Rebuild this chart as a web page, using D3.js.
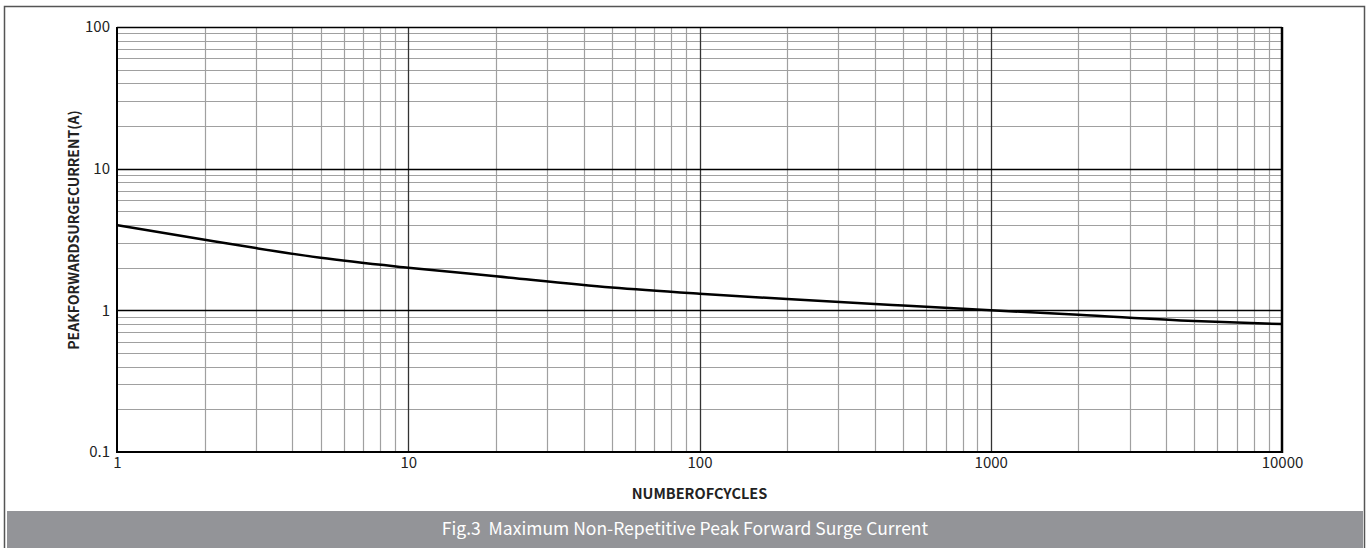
<!DOCTYPE html>
<html>
<head>
  <meta charset="utf-8" />
  <title>Fig.3 Peak Forward Surge Current</title>
  <style>
    body { margin: 0; background: #ffffff; }
    svg { display: block; font-family: 'Noto Sans CJK SC', 'Noto Sans', sans-serif; }
  </style>
  <script src="https://cdnjs.cloudflare.com/ajax/libs/d3/7.8.5/d3.min.js"></script>
</head>
<body>
<div id="chart"></div>
<script>
  // values
  var cycles = [1, 2, 3, 5, 10, 20, 50, 100, 200, 500, 1000, 2000, 5000, 10000];
  var current = [4.0, 3.15, 2.75, 2.35, 2.0, 1.74, 1.45, 1.31, 1.2, 1.08, 1.0, 0.93, 0.84, 0.8];
  var xTicks = [1, 10, 100, 1000, 10000];
  var yTicks = [0.1, 1, 10, 100];
  var xTitle = "NUMBEROFCYCLES";
  var yTitle = "PEAKFORWARDSURGECURRENT(A)";
  var caption = "Fig.3  Maximum Non-Repetitive Peak Forward Surge Current";

  var W = 1371, H = 548;
  var pL = 117, pR = 1282, pT = 27, pB = 452;

  var svg = d3.select("#chart").append("svg")
    .attr("width", W).attr("height", H);

  // outer frame
  svg.append("rect")
    .attr("x", 4.5).attr("y", 6.5)
    .attr("width", 1360).attr("height", 560)
    .attr("fill", "none").attr("stroke", "#555").attr("stroke-width", 1.5);

  var x = d3.scaleLog().domain([1, 10000]).range([pL, pR]);
  var y = d3.scaleLog().domain([0.1, 100]).range([pB, pT]);

  // minor values (2..9 per decade)
  function minors(lo, hi) {
    var out = [];
    for (var d = lo; d < hi * 0.99; d *= 10) {
      for (var k = 2; k <= 9; k++) out.push(d * k);
    }
    return out;
  }

  var grid = svg.append("g");
  grid.selectAll(".vmin").data(minors(1, 10000)).enter().append("line")
    .attr("x1", function (d) { return Math.round(x(d)) + 0.5; })
    .attr("x2", function (d) { return Math.round(x(d)) + 0.5; })
    .attr("y1", pT).attr("y2", pB)
    .attr("stroke", "#a0a0a0").attr("stroke-width", 1.2);
  grid.selectAll(".hmin").data(minors(0.1, 100)).enter().append("line")
    .attr("y1", function (d) { return Math.round(y(d)) + 0.5; })
    .attr("y2", function (d) { return Math.round(y(d)) + 0.5; })
    .attr("x1", pL).attr("x2", pR)
    .attr("stroke", "#a0a0a0").attr("stroke-width", 1.2);
  grid.selectAll(".vmaj").data(xTicks.slice(1, -1)).enter().append("line")
    .attr("x1", function (d) { return Math.round(x(d)) + 0.5; })
    .attr("x2", function (d) { return Math.round(x(d)) + 0.5; })
    .attr("y1", pT).attr("y2", pB)
    .attr("stroke", "#333").attr("stroke-width", 1.3);
  grid.selectAll(".hmaj").data(yTicks.slice(1, -1)).enter().append("line")
    .attr("y1", function (d) { return Math.round(y(d)) + 0.5; })
    .attr("y2", function (d) { return Math.round(y(d)) + 0.5; })
    .attr("x1", pL).attr("x2", pR)
    .attr("stroke", "#000").attr("stroke-width", 1.3);

  // plot frame
  svg.append("line").attr("x1", pL).attr("x2", pR).attr("y1", pT + 0.5).attr("y2", pT + 0.5)
    .attr("stroke", "#000").attr("stroke-width", 1.5);
  svg.append("line").attr("x1", pL).attr("x2", pR).attr("y1", pB).attr("y2", pB)
    .attr("stroke", "#000").attr("stroke-width", 2);
  svg.append("line").attr("x1", pL).attr("x2", pL).attr("y1", pT).attr("y2", pB + 1)
    .attr("stroke", "#000").attr("stroke-width", 2);
  svg.append("line").attr("x1", pR).attr("x2", pR).attr("y1", pT).attr("y2", pB + 1)
    .attr("stroke", "#000").attr("stroke-width", 2.5);

  // axes labels
  var fmt = function (d) { return d < 1 ? "0.1" : String(d); };
  var xAxis = svg.append("g")
    .attr("transform", "translate(0," + pB + ")")
    .call(d3.axisBottom(x).tickValues(xTicks).tickFormat(fmt).tickSize(0).tickPadding(5));
  var yAxis = svg.append("g")
    .attr("transform", "translate(" + pL + ",0)")
    .call(d3.axisLeft(y).tickValues(yTicks).tickFormat(fmt).tickSize(0).tickPadding(7));
  [xAxis, yAxis].forEach(function (a) {
    a.select(".domain").remove();
    a.selectAll("text").attr("font-size", "15px").attr("fill", "#222")
      .attr("font-family", "'Noto Sans CJK SC', 'Noto Sans', sans-serif");
  });

  // curve
  var line = d3.line()
    .x(function (d, i) { return x(cycles[i]); })
    .y(function (d) { return y(d); })
    .curve(d3.curveMonotoneX);
  svg.append("path").datum(current)
    .attr("d", line)
    .attr("fill", "none").attr("stroke", "#000").attr("stroke-width", 2.5);

  // titles
  svg.append("text")
    .attr("x", (pL + pR) / 2).attr("y", 499)
    .attr("text-anchor", "middle").attr("font-size", "14.5px").attr("font-weight", "bold")
    .attr("fill", "#222").text(xTitle);
  svg.append("text")
    .attr("transform", "translate(79,230) rotate(-90)")
    .attr("text-anchor", "middle").attr("font-size", "14px").attr("font-weight", "bold")
    .attr("fill", "#222").text(yTitle);

  // caption band
  svg.append("rect")
    .attr("x", 7).attr("y", 511).attr("width", 1356).attr("height", 37)
    .attr("fill", "#939498");
  svg.append("text")
    .attr("x", 685).attr("y", 535)
    .attr("text-anchor", "middle").attr("font-size", "17.5px")
    .attr("fill", "#ffffff").attr("xml:space", "preserve").text(caption);
</script>
</body>
</html>
